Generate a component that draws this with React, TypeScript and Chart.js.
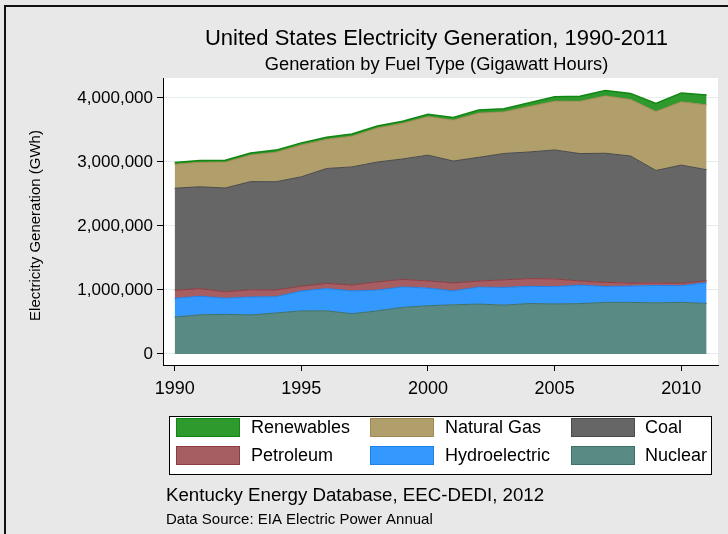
import React, { useEffect, useRef } from "react";
import { Chart, registerables } from "chart.js";

Chart.register(...registerables);

// ---------- data ----------
const years = [1990, 1991, 1992, 1993, 1994, 1995, 1996, 1997, 1998, 1999, 2000, 2001, 2002, 2003, 2004, 2005, 2006, 2007, 2008, 2009, 2010, 2011];
const nuclear = [576862, 612565, 618776, 610291, 640440, 673402, 674729, 628644, 673702, 728254, 753893, 768826, 780064, 763733, 788528, 781986, 787219, 806425, 806208, 798855, 806968, 790204];
const hydroelectric = [292866, 289359, 253088, 280494, 254077, 310833, 347162, 356453, 323336, 319536, 275573, 216961, 264329, 275806, 268417, 270321, 289246, 247510, 254831, 273445, 260203, 325074];
const petroleum = [126460, 119752, 100154, 112788, 105901, 74554, 81411, 92555, 128800, 118061, 111221, 124880, 94567, 119406, 121145, 122225, 64166, 65739, 46243, 38937, 37061, 30182];
const coal = [1594011, 1590623, 1621206, 1690070, 1690694, 1709426, 1795196, 1845016, 1873516, 1881087, 1966265, 1903956, 1933130, 1973737, 1978301, 2012873, 1990511, 2016456, 1985801, 1755904, 1847290, 1733430];
const naturalGas = [372765, 381553, 404074, 414927, 460219, 496058, 455056, 479399, 531257, 556396, 601038, 639129, 691006, 649908, 710100, 760960, 816441, 896590, 882981, 920979, 987697, 1013689];
const renewables = [30000, 30000, 31000, 32000, 34000, 34000, 33000, 34000, 32000, 34000, 38000, 42000, 48000, 50000, 60000, 72000, 80000, 85000, 95000, 125000, 140000, 152000];

const seriesNames = ["Nuclear", "Hydroelectric", "Petroleum", "Coal", "Natural Gas", "Renewables"];
const seriesValues = [nuclear, hydroelectric, petroleum, coal, naturalGas, renewables];
const fillColors = ["#598a84", "#3399ff", "#a65e62", "#666666", "#b09f6b", "#2e9a2e"];
const lineColors = ["#3f706a", "#1f80e6", "#8c3c42", "#4a4a4a", "#a08a52", "#128612"];

const legendRows = [
  ["Renewables", "Natural Gas", "Coal"],
  ["Petroleum", "Hydroelectric", "Nuclear"],
];

const xTicks = [1990, 1995, 2000, 2005, 2010];
const yTicks = [0, 1000000, 2000000, 3000000, 4000000];

const titleText = "United States Electricity Generation, 1990-2011";
const subtitleText = "Generation by Fuel Type (Gigawatt Hours)";
const yTitleText = "Electricity Generation (GWh)";
const footerText = "Kentucky Energy Database, EEC-DEDI, 2012";
const sourceText = "Data Source: EIA Electric Power Annual";

const FONT = '"Liberation Sans", Arial, sans-serif';

const decorPlugin = {
  id: "decor",
  beforeDraw(chart: any) {
    const ctx = chart.ctx;
    const { chartArea } = chart;
    ctx.save();
    ctx.fillStyle = "#e8e8e8";
    ctx.fillRect(0, 0, chart.width, chart.height);
    ctx.fillStyle = "#111111";
    ctx.fillRect(4, 5, chart.width - 4, 2);
    ctx.fillRect(4, 5, 2, chart.height - 5);
    ctx.fillStyle = "#ffffff";
    ctx.fillRect(chartArea.left, chartArea.top, chartArea.right - chartArea.left, chartArea.bottom - chartArea.top);
    ctx.restore();
  },
  afterDraw(chart: any) {
    const ctx = chart.ctx;
    const { chartArea } = chart;
    ctx.save();
    ctx.fillStyle = "#000";
    ctx.textAlign = "center";
    ctx.textBaseline = "alphabetic";
    const cx = (chartArea.left + chartArea.right) / 2 - 4;
    ctx.font = `22px ${FONT}`;
    ctx.fillText(titleText, cx, 45);
    ctx.font = `18.3px ${FONT}`;
    ctx.fillText(subtitleText, cx, 70);

    // y axis title
    ctx.save();
    ctx.translate(36, (chartArea.top + chartArea.bottom) / 2 + 4);
    ctx.rotate(-Math.PI / 2);
    ctx.textBaseline = "middle";
    ctx.font = `15px ${FONT}`;
    ctx.fillText(yTitleText, 0, 0);
    ctx.restore();

    // legend
    const bx = 169, by = 416, bw = 542, bh = 58;
    ctx.fillStyle = "#ffffff";
    ctx.fillRect(bx, by, bw, bh);
    ctx.strokeStyle = "#000";
    ctx.lineWidth = 1;
    ctx.strokeRect(bx + 0.5, by + 0.5, bw, bh);
    const swX = [176, 370, 571];
    const txX = [251, 445, 645];
    const rowY = [418, 446];
    ctx.font = `18px ${FONT}`;
    ctx.textAlign = "left";
    ctx.textBaseline = "middle";
    legendRows.forEach((row, r) => {
      row.forEach((name, c) => {
        const i = seriesNames.indexOf(name);
        ctx.fillStyle = fillColors[i];
        ctx.fillRect(swX[c], rowY[r], 64, 19);
        ctx.strokeStyle = lineColors[i];
        ctx.strokeRect(swX[c] + 0.5, rowY[r] + 0.5, 63, 18);
        ctx.fillStyle = "#000";
        ctx.fillText(name, txX[c], rowY[r] + 10);
      });
    });

    // footers
    ctx.fillStyle = "#000";
    ctx.font = `18.7px ${FONT}`;
    ctx.fillText(footerText, 166, 496);
    ctx.font = `15px ${FONT}`;
    ctx.fillText(sourceText, 166, 520);
    ctx.restore();
  },
};

export default function App() {
  const ref = useRef<HTMLCanvasElement | null>(null);

  useEffect(() => {
    document.body.style.margin = "0";
    const canvas = ref.current;
    if (!canvas) return;
    const datasets = seriesNames.map((name, i) => ({
      label: name,
      data: years.map((y, k) => ({ x: y, y: seriesValues[i][k] })),
      backgroundColor: fillColors[i],
      borderColor: lineColors[i],
      borderWidth: i === 5 ? 1.5 : 1,
      fill: i === 0 ? "origin" : "-1",
      pointRadius: 0,
      tension: 0,
    }));
    const chart = new Chart(canvas, {
      type: "line",
      data: { datasets },
      options: {
        animation: false,
        responsive: false,
        devicePixelRatio: 1,
        layout: { padding: { left: 0, right: 10, top: 78, bottom: 0 } },
        plugins: {
          legend: { display: false },
          tooltip: { enabled: false },
          title: { display: false },
        },
        scales: {
          x: {
            type: "linear",
            min: 1989.54,
            max: 2011.45,
            afterBuildTicks: (s: any) => {
              s.ticks = xTicks.map((v) => ({ value: v }));
            },
            afterFit: (s: any) => {
              s.height = 169;
            },
            grid: { drawOnChartArea: false, tickLength: 6, tickColor: "#000" },
            border: { color: "#000", width: 1 },
            ticks: {
              color: "#000",
              font: { family: FONT, size: 18 },
              padding: 7,
              maxRotation: 0,
              autoSkip: false,
              callback: (v: any) => String(v),
            },
          },
          y: {
            type: "linear",
            stacked: true,
            min: -172000,
            max: 4312000,
            afterBuildTicks: (s: any) => {
              s.ticks = yTicks.map((v) => ({ value: v }));
            },
            afterFit: (s: any) => {
              s.width = 163;
            },
            grid: { color: "#e4edf0", tickLength: 6, tickColor: "#000" },
            border: { color: "#000", width: 1 },
            ticks: {
              color: "#000",
              font: { family: FONT, size: 17 },
              padding: 4,
              callback: (v: any) => Number(v).toLocaleString("en-US"),
            },
          },
        },
      } as any,
      plugins: [decorPlugin],
    });
    return () => chart.destroy();
  }, []);

  return (
    <div style={{ width: 728, height: 534 }}>
      <canvas ref={ref} width={728} height={534} style={{ display: "block" }} />
    </div>
  );
}
